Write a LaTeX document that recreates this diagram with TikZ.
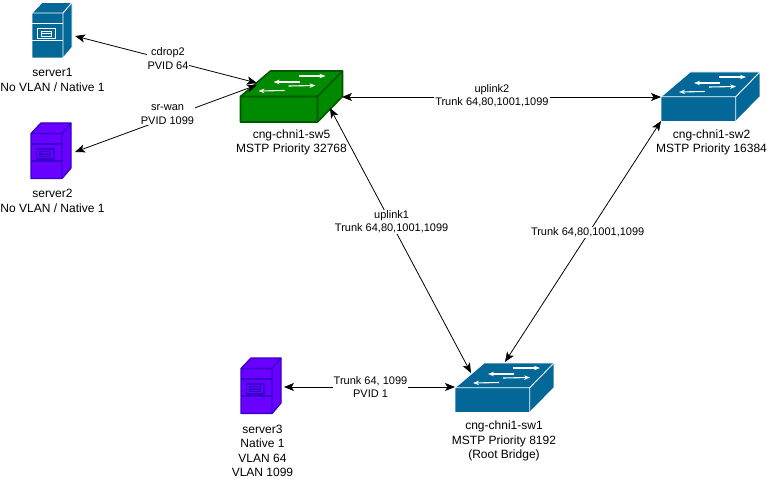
\documentclass[tikz,border=0pt]{standalone}
\usepackage{fontspec}
\setmainfont{Liberation Sans}
\usetikzlibrary{arrows.meta}
\definecolor{bluefill}{HTML}{036897}
\definecolor{greenfill}{HTML}{008A00}
\definecolor{greenline}{HTML}{005700}
\definecolor{purplefill}{HTML}{6A00FF}
\definecolor{purpleline}{HTML}{3700CC}
\tikzset{
  blueshape/.style={fill=bluefill,draw=white,line width=0.9pt,line join=round},
  greenshape/.style={fill=greenfill,draw=greenline,line width=1.6pt,line join=round},
  purpleshape/.style={fill=purplefill,draw=purpleline,line width=1.3pt,line join=round},
  flow/.style={white,line width=1.1pt,-{Stealth[length=6pt,width=4.5pt]}},
  devlabel/.style={font=\fontsize{12}{14.5}\selectfont,align=center,inner sep=0pt,text=black},
  linklabel/.style={font=\fontsize{11}{13.5}\selectfont,align=center,fill=white,inner sep=1pt,text=black},
  port/.style={inner sep=0pt,minimum size=0pt,outer sep=0pt},
  link/.style={black,line width=0.8pt,{Stealth[length=10pt,width=8pt,inset=2.5pt]}-{Stealth[length=10pt,width=8pt,inset=2.5pt]}}
}
\newcommand{\serverico}[3]{%
  \begin{scope}[shift={(#2,#3)}]
    \path[#1] (0,0) -- (10,-10.5) -- (40,-10.5) -- (40,34.5) -- (31,45) -- (0,45) -- cycle;
    \path[#1,fill=none] (0,0) -- (31,0) -- (40,-10.5) (31,0) -- (31,45);
    \path[#1,fill=none] (0,10.5) -- (31,10.5) (0,27.5) -- (31,27.5);
    \path[#1,fill=none] (5.5,15.5) rectangle (23,25.5);
    \path[#1,fill=none] (9,18) rectangle (19.5,23);
    \path[#1,fill=none] (9,20.5) -- (19.5,20.5);
  \end{scope}}
\newcommand{\switchico}[3]{%
  \begin{scope}[shift={(#2,#3)}]
    \path[#1] (0,25.5) -- (30,0) -- (102,0) -- (102,25.5) -- (77,51) -- (0,51) -- cycle;
    \path[#1,fill=none] (0,25.5) -- (77,25.5) -- (102,0) (77,25.5) -- (77,51);
    \draw[flow] (58,5) -- (85,5);
    \draw[flow] (59,11) -- (33,11);
    \draw[flow] (48,15) -- (75,14.5);
    \draw[flow] (44,19.5) -- (18,20);
  \end{scope}}
\begin{document}
\begin{tikzpicture}[x=1pt,y=-1pt]
\useasboundingbox (0,0) rectangle (767,481);
\serverico{blueshape}{32}{13}
\serverico{purpleshape}{31}{133.5}
\serverico{purpleshape}{241}{368.5}
\switchico{greenshape}{240.5}{71}
\switchico{blueshape,x=0.97pt,y=-0.97pt}{661}{72}
\switchico{blueshape,x=0.97pt,y=-0.97pt}{455}{363}

\node[devlabel] (l1) at (52.5,80) {server1\\No VLAN / Native 1};
\node[devlabel] (l2) at (52.5,201) {server2\\No VLAN / Native 1};
\node[devlabel] (l3) at (262.5,451) {server3\\Native 1\\VLAN 64\\VLAN 1099};
\node[devlabel] (l5) at (291.5,142.5) {cng-chni1-sw5\\MSTP Priority 32768};
\node[devlabel] (l6) at (711.5,142.5) {cng-chni1-sw2\\MSTP Priority 16384};
\node[devlabel] (l7) at (504,441) {cng-chni1-sw1\\MSTP Priority 8192\\(Root Bridge)};

\node[port] (server1) at (75,36) {};
\node[port] (server2) at (75,152) {};
\node[port] (server3) at (284,387) {};
\node[port] (sw5a) at (257,83) {};
\node[port] (sw5b) at (257,85) {};
\node[port] (sw5e) at (342,97) {};
\node[port] (sw5s) at (330,108) {};
\node[port] (sw2w) at (661,97) {};
\node[port] (sw2s) at (661,121) {};
\node[port] (sw1w) at (455,387) {};
\node[port] (sw1n) at (471,373) {};
\node[port] (sw1t) at (505,362) {};

\draw[link] (server1) -- (sw5a) node[linklabel,pos=0.5,xshift=2pt,yshift=1pt] (e1) {cdrop2\\PVID 64};
\draw[link] (sw5b) -- (server2) node[linklabel,pos=0.5,xshift=1.5pt,yshift=4pt] (e2) {sr-wan\\PVID 1099};
\draw[link] (sw5e) -- (sw2w) node[linklabel,pos=0.47,yshift=1.5pt] (e3) {uplink2\\Trunk 64,80,1001,1099};
\draw[link] (sw5s) -- (sw1n) node[linklabel,pos=0.43,xshift=1pt] (e4) {uplink1\\Trunk 64,80,1001,1099};
\draw[link] (sw2s) -- (sw1t) node[linklabel,pos=0.47,yshift=2pt] (e5) {Trunk 64,80,1001,1099};
\draw[link] (server3) -- (sw1w) node[linklabel,pos=0.5,xshift=1pt] (e6) {Trunk 64, 1099\\PVID 1};
\end{tikzpicture}
\end{document}
